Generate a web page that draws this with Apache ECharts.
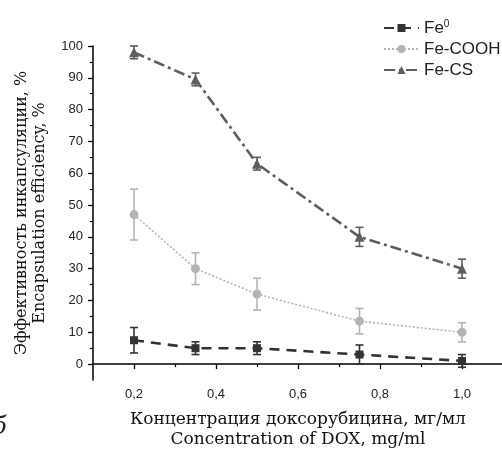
<!DOCTYPE html>
<html>
<head>
<meta charset="utf-8">
<script src="https://cdn.jsdelivr.net/npm/echarts@6/dist/echarts.min.js"></script>
<style>
  html, body { margin: 0; padding: 0; background: #fff; }
  #chart { width: 502px; height: 450px; }
</style>
</head>
<body>
<div id="chart"></div>
<script>
// concentration of DOX, mg/ml
var conc = [0.2, 0.35, 0.5, 0.75, 1.0];

var fe0 = [7.5, 5, 5, 3, 1];
var fe0Err = [4, 2, 2, 3, 2];
var cooh = [47, 30, 22, 13.5, 10];
var coohErr = [8, 5, 5, 4, 3];
var cs = [98, 89.5, 63, 40, 30];
var csErr = [2, 2, 2, 3, 3];

var yMajor = [0, 10, 20, 30, 40, 50, 60, 70, 80, 90, 100];
var yMinor = [5, 15, 25, 35, 45, 55, 65, 75, 85, 95];
var xMajor = [0.2, 0.4, 0.6, 0.8, 1.0];
var xMinor = [0.3, 0.5, 0.7, 0.9];

var names = ['Fe0', 'Fe-COOH', 'Fe-CS'];

function pairs(vals) {
  return vals.map(function (v, i) { return [conc[i], v]; });
}

function errData(vals, errs) {
  return vals.map(function (v, i) { return [conc[i], v - errs[i], v + errs[i]]; });
}

function errSeries(vals, errs, color) {
  return {
    type: 'custom',
    silent: true,
    z: 1,
    data: errData(vals, errs),
    renderItem: function (params, api) {
      var lo = api.coord([api.value(0), api.value(1)]);
      var hi = api.coord([api.value(0), api.value(2)]);
      var w = 4;
      var st = { stroke: color, lineWidth: 1.6 };
      return {
        type: 'group',
        children: [
          { type: 'line', shape: { x1: lo[0], y1: lo[1], x2: hi[0], y2: hi[1] }, style: st },
          { type: 'line', shape: { x1: lo[0] - w, y1: lo[1], x2: lo[0] + w, y2: lo[1] }, style: st },
          { type: 'line', shape: { x1: hi[0] - w, y1: hi[1], x2: hi[0] + w, y2: hi[1] }, style: st }
        ]
      };
    }
  };
}

var serif = '"DejaVu Serif", "Liberation Serif", serif';
var sans = '"Liberation Sans", Arial, sans-serif';

var chart = echarts.init(document.getElementById('chart'));
chart.setOption({
  animation: false,
  grid: { left: 93, top: 46, width: 410, height: 334, outerBoundsMode: 'none', containLabel: false },
  legend: {
    data: names,
    orient: 'vertical',
    left: 378,
    top: 14,
    itemWidth: 35,
    itemHeight: 10,
    itemGap: 4,
    textStyle: { fontFamily: sans, fontSize: 17, color: '#222',
      rich: { sup: { fontSize: 10, verticalAlign: 'top', padding: [0, 0, 8, 0], fontFamily: sans, color: '#222' } } },
    formatter: function (n) { return n === 'Fe0' ? 'Fe{sup|0}' : n; }
  },
  xAxis: [{
    type: 'value',
    min: 0.1,
    max: 1.1,
    name: 'Концентрация доксорубицина, мг/мл\nConcentration of DOX, mg/ml',
    nameLocation: 'middle',
    nameGap: 30,
    nameTextStyle: { fontFamily: serif, fontSize: 17, color: '#111', lineHeight: 20 },
    splitLine: { show: false },
    axisLine: { lineStyle: { color: '#000', width: 1.5 } },
    axisTick: { customValues: xMajor, length: 5, lineStyle: { color: '#000', width: 1.3 } },
    axisLabel: { customValues: xMajor, margin: 8, fontFamily: sans, fontSize: 13, color: '#222',
      formatter: function (v) { return v.toFixed(1).replace('.', ','); } }
  }, {
    type: 'value',
    min: 0.1,
    max: 1.1,
    position: 'bottom',
    splitLine: { show: false },
    axisLine: { show: false },
    axisTick: { customValues: xMinor, length: 3, lineStyle: { color: '#000', width: 1.2 } },
    axisLabel: { show: false }
  }],
  yAxis: [{
    type: 'value',
    min: -5,
    max: 100,
    name: 'Эффективность инкапсуляции, %\nEncapsulation efficiency, %',
    nameLocation: 'middle',
    nameRotate: 90,
    nameGap: 44,
    nameTextStyle: { fontFamily: serif, fontSize: 16, color: '#111', lineHeight: 18 },
    splitLine: { show: false },
    axisLine: { show: true, lineStyle: { color: '#000', width: 1.5 } },
    axisTick: { show: true, customValues: yMajor, length: 5, lineStyle: { color: '#000', width: 1.3 } },
    axisLabel: { customValues: yMajor, margin: 10, fontFamily: sans, fontSize: 13, color: '#222' }
  }, {
    type: 'value',
    min: -5,
    max: 100,
    position: 'left',
    splitLine: { show: false },
    axisLine: { show: false },
    axisTick: { show: true, customValues: yMinor, length: 3, lineStyle: { color: '#000', width: 1.2 } },
    axisLabel: { show: false }
  }],
  series: [
    errSeries(fe0, fe0Err, '#333'),
    errSeries(cooh, coohErr, '#b4b4b4'),
    errSeries(cs, csErr, '#5e5e5e'),
    {
      name: 'Fe0', type: 'line', z: 3, data: pairs(fe0),
      symbol: 'rect', symbolSize: 8,
      itemStyle: { color: '#333' },
      lineStyle: { color: '#333', width: 2.6, type: [10, 7] }
    },
    {
      name: 'Fe-COOH', type: 'line', z: 3, data: pairs(cooh),
      symbol: 'circle', symbolSize: 9,
      itemStyle: { color: '#b4b4b4' },
      lineStyle: { color: '#b4b4b4', width: 1.6, type: [2, 2] }
    },
    {
      name: 'Fe-CS', type: 'line', z: 3, data: pairs(cs),
      symbol: 'triangle', symbolSize: 10,
      itemStyle: { color: '#5e5e5e' },
      lineStyle: { color: '#5e5e5e', width: 2.6, type: [11, 4, 3, 4] }
    }
  ],
  graphic: [{
    type: 'text', left: -8, top: 416,
    style: { text: 'б', font: 'italic 24px ' + serif, fill: '#222' }
  }]
});
</script>
</body>
</html>
